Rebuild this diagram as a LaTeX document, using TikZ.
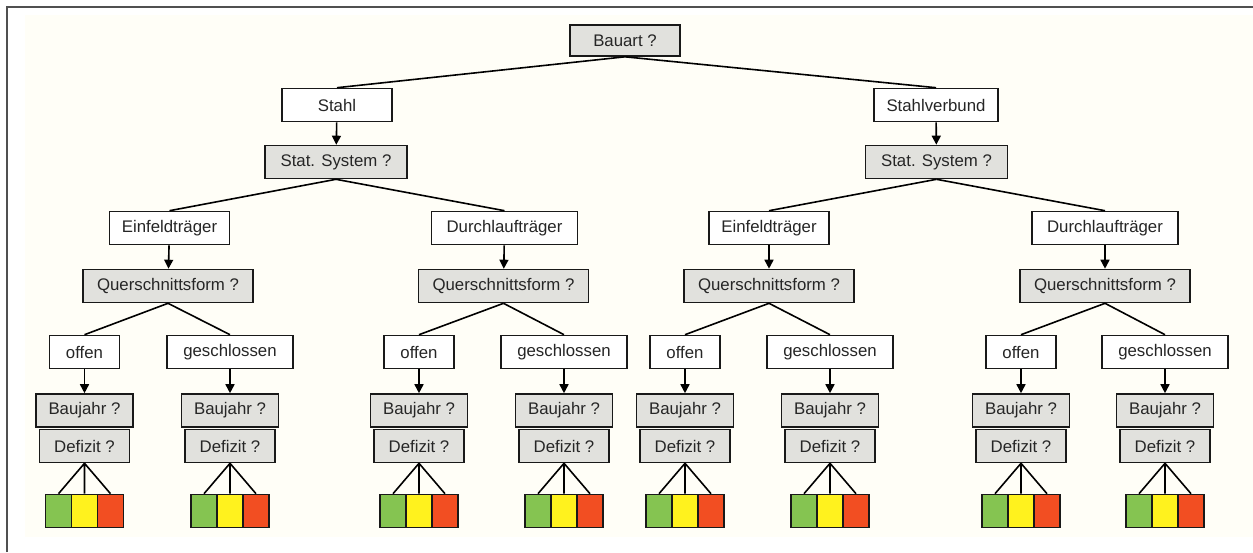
\documentclass[tikz,border=0pt]{standalone}
\usepackage{fontspec}
\setmainfont{Liberation Sans}
\usetikzlibrary{arrows.meta}
\definecolor{rahmen}{HTML}{505050}
\definecolor{papier}{HTML}{FFFEF7}
\definecolor{fragegrau}{HTML}{E1E1DD}
\definecolor{gruen}{HTML}{85C451}
\definecolor{gelb}{HTML}{FFF21E}
\definecolor{rot}{HTML}{F24E22}
\tikzstyle{box}=[draw=black!90, line width=0.8pt, minimum height=16.5pt, inner sep=0pt, font=\fontsize{8.4}{10}\selectfont, text=black!85]
\tikzstyle{frage}=[box, fill=fragegrau]
\tikzstyle{antwort}=[box, fill=white]
\tikzstyle{ampel}=[draw=black!90, line width=0.8pt, minimum width=13pt, minimum height=16.5pt, inner sep=0pt]
\tikzstyle{pfeil}=[-{Triangle[length=4.5pt,width=4.5pt]}, line width=0.8pt]
\tikzstyle{ast}=[line width=0.8pt]
% Antwort + Baujahr/Defizit + Ampel: #1 Name, #2 x, #3 Text, #4 Breite
\newcommand{\blatt}[4]{
	\node[antwort, minimum width=#4] (#1) at (#2,352) {#3};
	\node[frage, minimum width=48.5pt] (#1-bj) at (#2,410.5) {Baujahr ?};
	\node[frage, minimum width=45pt] (#1-dz) at (#2,446) {Defizit ?};
	\node[ampel, fill=gruen] (#1-g) at (#2-26,511) {};
	\node[ampel, fill=gelb] (#1-y) at (#2,511) {};
	\node[ampel, fill=rot] (#1-r) at (#2+26,511) {};
	\draw[pfeil] (#1) -- (#1-bj);
	\draw[ast] (#1-dz.south) -- (#1-g.north)
		(#1-dz.south) -- (#1-y.north)
		(#1-dz.south) -- (#1-r.north);
}

\begin{document}
\begin{tikzpicture}[x=0.5pt, y=-0.5pt]
	\useasboundingbox (0,0) rectangle (1253,552);
	\fill[papier] (25,15) rectangle (1253,537);
	\draw[rahmen, line width=1pt] (7,552) -- (7,7) -- (1253,7);

	\node[frage, minimum width=55pt, minimum height=15.5pt] (bauart) at (625,40.5) {Bauart ?};
	\node[antwort, minimum width=55pt] (stahl) at (337,105) {Stahl};
	\node[antwort, minimum width=62pt] (verbund) at (936,105) {Stahlverbund};
	\node[frage, minimum width=71pt] (sys1) at (336,162) {Stat. System ?};
	\node[frage, minimum width=71pt] (sys2) at (936.5,162) {Stat. System ?};
	\node[antwort, minimum width=60pt] (ef1) at (169.5,228) {Einfeldträger};
	\node[antwort, minimum width=73pt] (dl1) at (504.5,228) {Durchlaufträger};
	\node[antwort, minimum width=60pt] (ef2) at (769,228) {Einfeldträger};
	\node[antwort, minimum width=73pt] (dl2) at (1105,228) {Durchlaufträger};
	\node[frage, minimum width=85pt] (qs1) at (168,286) {Querschnittsform ?};
	\node[frage, minimum width=85pt] (qs2) at (503.5,286) {Querschnittsform ?};
	\node[frage, minimum width=85pt] (qs3) at (769,286) {Querschnittsform ?};
	\node[frage, minimum width=85pt] (qs4) at (1105,286) {Querschnittsform ?};

	\blatt{of1}{84.5}{offen}{35pt}
	\blatt{gs1}{230}{geschlossen}{63pt}
	\blatt{of2}{419}{offen}{35pt}
	\blatt{gs2}{564}{geschlossen}{63pt}
	\blatt{of3}{685}{offen}{35pt}
	\blatt{gs3}{830}{geschlossen}{63pt}
	\blatt{of4}{1021}{offen}{35pt}
	\blatt{gs4}{1165}{geschlossen}{63pt}

	\path[ast]
		(bauart.south) edge (stahl.north)
		(bauart.south) edge (verbund.north)
		(sys1.south) edge (ef1.north)
		(sys1.south) edge (dl1.north)
		(sys2.south) edge (ef2.north)
		(sys2.south) edge (dl2.north)
		(qs1.south) edge (of1.north)
		(qs1.south) edge (gs1.north)
		(qs2.south) edge (of2.north)
		(qs2.south) edge (gs2.north)
		(qs3.south) edge (of3.north)
		(qs3.south) edge (gs3.north)
		(qs4.south) edge (of4.north)
		(qs4.south) edge (gs4.north);
	\path[pfeil]
		(stahl) edge (sys1)
		(verbund) edge (sys2)
		(ef1) edge (qs1)
		(dl1) edge (qs2)
		(ef2) edge (qs3)
		(dl2) edge (qs4);
\end{tikzpicture}
\end{document}
